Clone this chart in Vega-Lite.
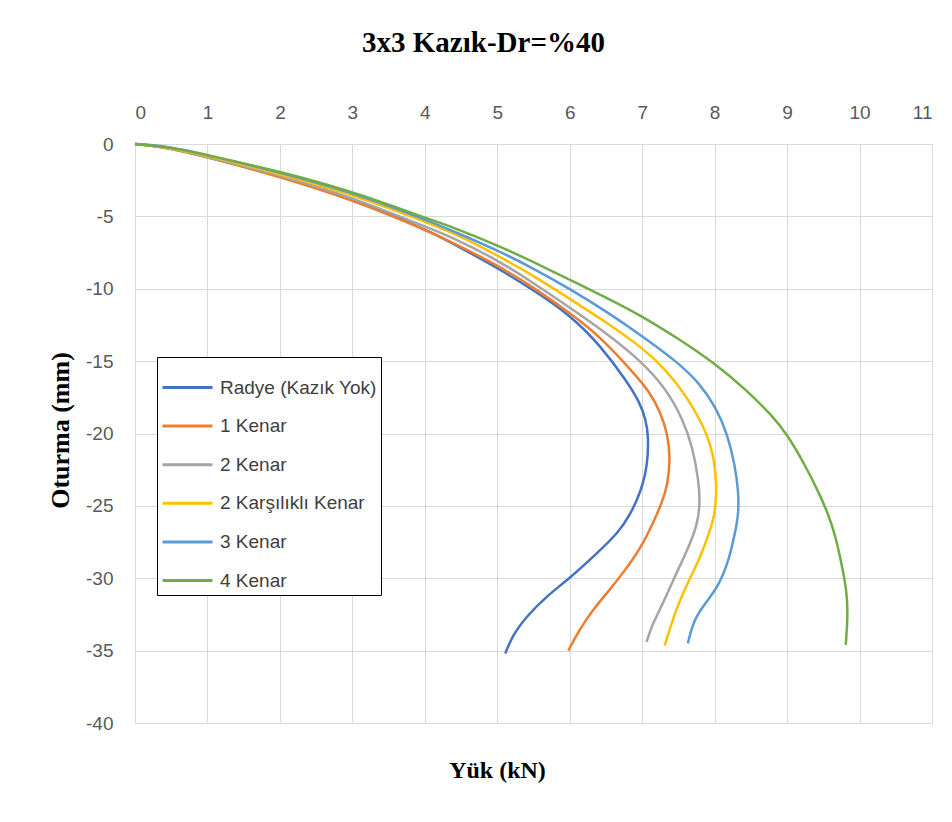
{
  "$schema": "https://vega.github.io/schema/vega-lite/v6.json",
  "width": 797,
  "height": 579,
  "autosize": {"type": "none"},
  "padding": {"left": 135, "top": 144, "right": 20, "bottom": 99},
  "background": "white",
  "title": {
    "text": "3x3 Kazık-Dr=%40",
    "font": "Liberation Serif",
    "fontSize": 29,
    "fontWeight": "bold",
    "color": "#000000",
    "anchor": "middle",
    "dx": -50,
    "offset": 45
  },
  "data": {
    "values": [
      {"s": "Radye (Kazık Yok)", "i": 0, "x": 0, "y": 0},
      {"s": "Radye (Kazık Yok)", "i": 1, "x": 0.44, "y": -0.23},
      {"s": "Radye (Kazık Yok)", "i": 2, "x": 1, "y": -0.9},
      {"s": "Radye (Kazık Yok)", "i": 3, "x": 2, "y": -2.2},
      {"s": "Radye (Kazık Yok)", "i": 4, "x": 3, "y": -3.8},
      {"s": "Radye (Kazık Yok)", "i": 5, "x": 4, "y": -5.85},
      {"s": "Radye (Kazık Yok)", "i": 6, "x": 4.36, "y": -6.8},
      {"s": "Radye (Kazık Yok)", "i": 7, "x": 5, "y": -8.55},
      {"s": "Radye (Kazık Yok)", "i": 8, "x": 5.5, "y": -10.1},
      {"s": "Radye (Kazık Yok)", "i": 9, "x": 6, "y": -11.8},
      {"s": "Radye (Kazık Yok)", "i": 10, "x": 6.42, "y": -13.9},
      {"s": "Radye (Kazık Yok)", "i": 11, "x": 6.79, "y": -16.4},
      {"s": "Radye (Kazık Yok)", "i": 12, "x": 6.96, "y": -17.8},
      {"s": "Radye (Kazık Yok)", "i": 13, "x": 7.05, "y": -19.0},
      {"s": "Radye (Kazık Yok)", "i": 14, "x": 7.09, "y": -20.3},
      {"s": "Radye (Kazık Yok)", "i": 15, "x": 7.07, "y": -22.2},
      {"s": "Radye (Kazık Yok)", "i": 16, "x": 7.01, "y": -23.5},
      {"s": "Radye (Kazık Yok)", "i": 17, "x": 6.93, "y": -24.6},
      {"s": "Radye (Kazık Yok)", "i": 18, "x": 6.83, "y": -25.6},
      {"s": "Radye (Kazık Yok)", "i": 19, "x": 6.69, "y": -26.76},
      {"s": "Radye (Kazık Yok)", "i": 20, "x": 6.33, "y": -28.5},
      {"s": "Radye (Kazık Yok)", "i": 21, "x": 6.0, "y": -30},
      {"s": "Radye (Kazık Yok)", "i": 22, "x": 5.69, "y": -31.2},
      {"s": "Radye (Kazık Yok)", "i": 23, "x": 5.41, "y": -32.6},
      {"s": "Radye (Kazık Yok)", "i": 24, "x": 5.21, "y": -33.95},
      {"s": "Radye (Kazık Yok)", "i": 25, "x": 5.11, "y": -35.2},

      {"s": "1 Kenar", "i": 0, "x": 0, "y": 0},
      {"s": "1 Kenar", "i": 1, "x": 0.44, "y": -0.23},
      {"s": "1 Kenar", "i": 2, "x": 1, "y": -0.92},
      {"s": "1 Kenar", "i": 3, "x": 2, "y": -2.25},
      {"s": "1 Kenar", "i": 4, "x": 3, "y": -3.85},
      {"s": "1 Kenar", "i": 5, "x": 4, "y": -5.9},
      {"s": "1 Kenar", "i": 6, "x": 4.36, "y": -6.75},
      {"s": "1 Kenar", "i": 7, "x": 5, "y": -8.36},
      {"s": "1 Kenar", "i": 8, "x": 5.5, "y": -9.9},
      {"s": "1 Kenar", "i": 9, "x": 6, "y": -11.67},
      {"s": "1 Kenar", "i": 10, "x": 6.42, "y": -13.3},
      {"s": "1 Kenar", "i": 11, "x": 6.88, "y": -15.8},
      {"s": "1 Kenar", "i": 12, "x": 7.1, "y": -17.1},
      {"s": "1 Kenar", "i": 13, "x": 7.25, "y": -18.5},
      {"s": "1 Kenar", "i": 14, "x": 7.35, "y": -20.0},
      {"s": "1 Kenar", "i": 15, "x": 7.39, "y": -21.7},
      {"s": "1 Kenar", "i": 16, "x": 7.35, "y": -23.6},
      {"s": "1 Kenar", "i": 17, "x": 7.27, "y": -24.8},
      {"s": "1 Kenar", "i": 18, "x": 7.15, "y": -26.2},
      {"s": "1 Kenar", "i": 19, "x": 6.97, "y": -28.0},
      {"s": "1 Kenar", "i": 20, "x": 6.74, "y": -29.6},
      {"s": "1 Kenar", "i": 21, "x": 6.56, "y": -30.75},
      {"s": "1 Kenar", "i": 22, "x": 6.33, "y": -32.1},
      {"s": "1 Kenar", "i": 23, "x": 6.14, "y": -33.5},
      {"s": "1 Kenar", "i": 24, "x": 5.98, "y": -35.0},

      {"s": "2 Kenar", "i": 0, "x": 0, "y": 0},
      {"s": "2 Kenar", "i": 1, "x": 0.44, "y": -0.22},
      {"s": "2 Kenar", "i": 2, "x": 1, "y": -0.88},
      {"s": "2 Kenar", "i": 3, "x": 2, "y": -2.15},
      {"s": "2 Kenar", "i": 4, "x": 3, "y": -3.7},
      {"s": "2 Kenar", "i": 5, "x": 4, "y": -5.7},
      {"s": "2 Kenar", "i": 6, "x": 4.36, "y": -6.4},
      {"s": "2 Kenar", "i": 7, "x": 5, "y": -8.0},
      {"s": "2 Kenar", "i": 8, "x": 5.5, "y": -9.6},
      {"s": "2 Kenar", "i": 9, "x": 6, "y": -11.3},
      {"s": "2 Kenar", "i": 10, "x": 6.42, "y": -12.75},
      {"s": "2 Kenar", "i": 11, "x": 6.97, "y": -14.9},
      {"s": "2 Kenar", "i": 12, "x": 7.33, "y": -16.9},
      {"s": "2 Kenar", "i": 13, "x": 7.56, "y": -19.0},
      {"s": "2 Kenar", "i": 14, "x": 7.70, "y": -21.0},
      {"s": "2 Kenar", "i": 15, "x": 7.78, "y": -23.3},
      {"s": "2 Kenar", "i": 16, "x": 7.80, "y": -24.8},
      {"s": "2 Kenar", "i": 17, "x": 7.76, "y": -26.4},
      {"s": "2 Kenar", "i": 18, "x": 7.61, "y": -28.2},
      {"s": "2 Kenar", "i": 19, "x": 7.43, "y": -30.1},
      {"s": "2 Kenar", "i": 20, "x": 7.29, "y": -31.7},
      {"s": "2 Kenar", "i": 21, "x": 7.13, "y": -33.3},
      {"s": "2 Kenar", "i": 22, "x": 7.06, "y": -34.4},

      {"s": "2 Karşılıklı Kenar", "i": 0, "x": 0, "y": 0},
      {"s": "2 Karşılıklı Kenar", "i": 1, "x": 0.44, "y": -0.2},
      {"s": "2 Karşılıklı Kenar", "i": 2, "x": 1, "y": -0.82},
      {"s": "2 Karşılıklı Kenar", "i": 3, "x": 2, "y": -2.05},
      {"s": "2 Karşılıklı Kenar", "i": 4, "x": 3, "y": -3.5},
      {"s": "2 Karşılıklı Kenar", "i": 5, "x": 4, "y": -5.35},
      {"s": "2 Karşılıklı Kenar", "i": 6, "x": 4.36, "y": -6.07},
      {"s": "2 Karşılıklı Kenar", "i": 7, "x": 5, "y": -7.67},
      {"s": "2 Karşılıklı Kenar", "i": 8, "x": 5.5, "y": -9.1},
      {"s": "2 Karşılıklı Kenar", "i": 9, "x": 6, "y": -10.7},
      {"s": "2 Karşılıklı Kenar", "i": 10, "x": 6.5, "y": -12.3},
      {"s": "2 Karşılıklı Kenar", "i": 11, "x": 7.01, "y": -14.1},
      {"s": "2 Karşılıklı Kenar", "i": 12, "x": 7.33, "y": -15.6},
      {"s": "2 Karşılıklı Kenar", "i": 13, "x": 7.61, "y": -17.4},
      {"s": "2 Karşılıklı Kenar", "i": 14, "x": 7.84, "y": -19.4},
      {"s": "2 Karşılıklı Kenar", "i": 15, "x": 7.98, "y": -21.25},
      {"s": "2 Karşılıklı Kenar", "i": 16, "x": 8.03, "y": -23.5},
      {"s": "2 Karşılıklı Kenar", "i": 17, "x": 8.01, "y": -25.4},
      {"s": "2 Karşılıklı Kenar", "i": 18, "x": 7.94, "y": -26.7},
      {"s": "2 Karşılıklı Kenar", "i": 19, "x": 7.79, "y": -28.7},
      {"s": "2 Karşılıklı Kenar", "i": 20, "x": 7.61, "y": -30.5},
      {"s": "2 Karşılıklı Kenar", "i": 21, "x": 7.47, "y": -32.1},
      {"s": "2 Karşılıklı Kenar", "i": 22, "x": 7.31, "y": -34.65},

      {"s": "3 Kenar", "i": 0, "x": 0, "y": 0},
      {"s": "3 Kenar", "i": 1, "x": 0.44, "y": -0.15},
      {"s": "3 Kenar", "i": 2, "x": 1, "y": -0.76},
      {"s": "3 Kenar", "i": 3, "x": 2, "y": -1.95},
      {"s": "3 Kenar", "i": 4, "x": 3, "y": -3.35},
      {"s": "3 Kenar", "i": 5, "x": 4, "y": -5.2},
      {"s": "3 Kenar", "i": 6, "x": 4.36, "y": -5.96},
      {"s": "3 Kenar", "i": 7, "x": 5, "y": -7.33},
      {"s": "3 Kenar", "i": 8, "x": 5.5, "y": -8.6},
      {"s": "3 Kenar", "i": 9, "x": 6, "y": -10.0},
      {"s": "3 Kenar", "i": 10, "x": 6.5, "y": -11.55},
      {"s": "3 Kenar", "i": 11, "x": 7.01, "y": -13.3},
      {"s": "3 Kenar", "i": 12, "x": 7.47, "y": -15.0},
      {"s": "3 Kenar", "i": 13, "x": 7.79, "y": -16.5},
      {"s": "3 Kenar", "i": 14, "x": 8.02, "y": -18.2},
      {"s": "3 Kenar", "i": 15, "x": 8.18, "y": -20.1},
      {"s": "3 Kenar", "i": 16, "x": 8.28, "y": -22.2},
      {"s": "3 Kenar", "i": 17, "x": 8.33, "y": -24.0},
      {"s": "3 Kenar", "i": 18, "x": 8.33, "y": -25.6},
      {"s": "3 Kenar", "i": 19, "x": 8.28, "y": -26.9},
      {"s": "3 Kenar", "i": 20, "x": 8.2, "y": -28.7},
      {"s": "3 Kenar", "i": 21, "x": 8.06, "y": -30.5},
      {"s": "3 Kenar", "i": 22, "x": 7.86, "y": -31.8},
      {"s": "3 Kenar", "i": 23, "x": 7.71, "y": -32.9},
      {"s": "3 Kenar", "i": 24, "x": 7.63, "y": -34.5},

      {"s": "4 Kenar", "i": 0, "x": 0, "y": 0},
      {"s": "4 Kenar", "i": 1, "x": 0.44, "y": -0.18},
      {"s": "4 Kenar", "i": 2, "x": 1, "y": -0.76},
      {"s": "4 Kenar", "i": 3, "x": 2, "y": -1.9},
      {"s": "4 Kenar", "i": 4, "x": 3, "y": -3.28},
      {"s": "4 Kenar", "i": 5, "x": 4, "y": -5.1},
      {"s": "4 Kenar", "i": 6, "x": 4.36, "y": -5.69},
      {"s": "4 Kenar", "i": 7, "x": 5, "y": -6.99},
      {"s": "4 Kenar", "i": 8, "x": 5.5, "y": -8.15},
      {"s": "4 Kenar", "i": 9, "x": 6, "y": -9.38},
      {"s": "4 Kenar", "i": 10, "x": 6.5, "y": -10.6},
      {"s": "4 Kenar", "i": 11, "x": 7.0, "y": -11.9},
      {"s": "4 Kenar", "i": 12, "x": 7.5, "y": -13.45},
      {"s": "4 Kenar", "i": 13, "x": 8.0, "y": -15.15},
      {"s": "4 Kenar", "i": 14, "x": 8.43, "y": -16.95},
      {"s": "4 Kenar", "i": 15, "x": 8.79, "y": -18.75},
      {"s": "4 Kenar", "i": 16, "x": 9.0, "y": -20.05},
      {"s": "4 Kenar", "i": 17, "x": 9.25, "y": -22.2},
      {"s": "4 Kenar", "i": 18, "x": 9.44, "y": -24.1},
      {"s": "4 Kenar", "i": 19, "x": 9.57, "y": -25.6},
      {"s": "4 Kenar", "i": 20, "x": 9.67, "y": -27.1},
      {"s": "4 Kenar", "i": 21, "x": 9.76, "y": -29.2},
      {"s": "4 Kenar", "i": 22, "x": 9.82, "y": -30.8},
      {"s": "4 Kenar", "i": 23, "x": 9.84, "y": -32.4},
      {"s": "4 Kenar", "i": 24, "x": 9.81, "y": -34.6}
    ]
  },
  "mark": {"type": "line", "strokeWidth": 2.5, "interpolate": "basis"},
  "encoding": {
    "x": {
      "field": "x",
      "type": "quantitative",
      "scale": {"domain": [0, 11], "nice": false},
      "axis": {
        "orient": "top",
        "values": [0, 1, 2, 3, 4, 5, 6, 7, 8, 9, 10, 11],
        "title": "Yük (kN)",
        "titleX": 362,
        "titleY": 626,
        "titleBaseline": "middle",
        "titleFont": "Liberation Serif",
        "titleFontSize": 24,
        "titleFontWeight": "bold",
        "titleColor": "#000000",
        "labelFont": "Liberation Sans",
        "labelFontSize": 19,
        "labelColor": "#595959",
        "labelPadding": 22,
        "ticks": false,
        "domain": false,
        "grid": true,
        "gridColor": "#D9D9D9",
        "gridWidth": 1
      }
    },
    "y": {
      "field": "y",
      "type": "quantitative",
      "scale": {"domain": [-40, 0], "nice": false},
      "axis": {
        "values": [0, -5, -10, -15, -20, -25, -30, -35, -40],
        "labelExpr": "'' + datum.value",
        "title": "Oturma (mm)",
        "titleX": -75,
        "titleY": 286,
        "titleBaseline": "middle",
        "titleFont": "Liberation Serif",
        "titleFontSize": 26,
        "titleFontWeight": "bold",
        "titleColor": "#000000",
        "labelFont": "Liberation Sans",
        "labelFontSize": 19,
        "labelColor": "#595959",
        "labelPadding": 22,
        "ticks": false,
        "domain": false,
        "grid": true,
        "gridColor": "#D9D9D9",
        "gridWidth": 1
      }
    },
    "color": {
      "field": "s",
      "type": "nominal",
      "sort": ["Radye (Kazık Yok)", "1 Kenar", "2 Kenar", "2 Karşılıklı Kenar", "3 Kenar", "4 Kenar"],
      "scale": {
        "domain": ["Radye (Kazık Yok)", "1 Kenar", "2 Kenar", "2 Karşılıklı Kenar", "3 Kenar", "4 Kenar"],
        "range": ["#4472C4", "#ED7D31", "#A5A5A5", "#FFC000", "#5B9BD5", "#70AD47"]
      },
      "legend": {
        "title": null,
        "orient": "none",
        "legendX": 22,
        "legendY": 213,
        "strokeColor": "#000000",
        "fillColor": "#FFFFFF",
        "padding": 4,
        "symbolType": "stroke",
        "symbolSize": 2500,
        "symbolStrokeWidth": 3,
        "labelFont": "Liberation Sans",
        "labelFontSize": 19,
        "labelColor": "#404040",
        "labelOffset": 6,
        "rowPadding": 1.6
      }
    },
    "order": {"field": "i", "type": "quantitative"}
  },
  "config": {"view": {"stroke": null}}
}
